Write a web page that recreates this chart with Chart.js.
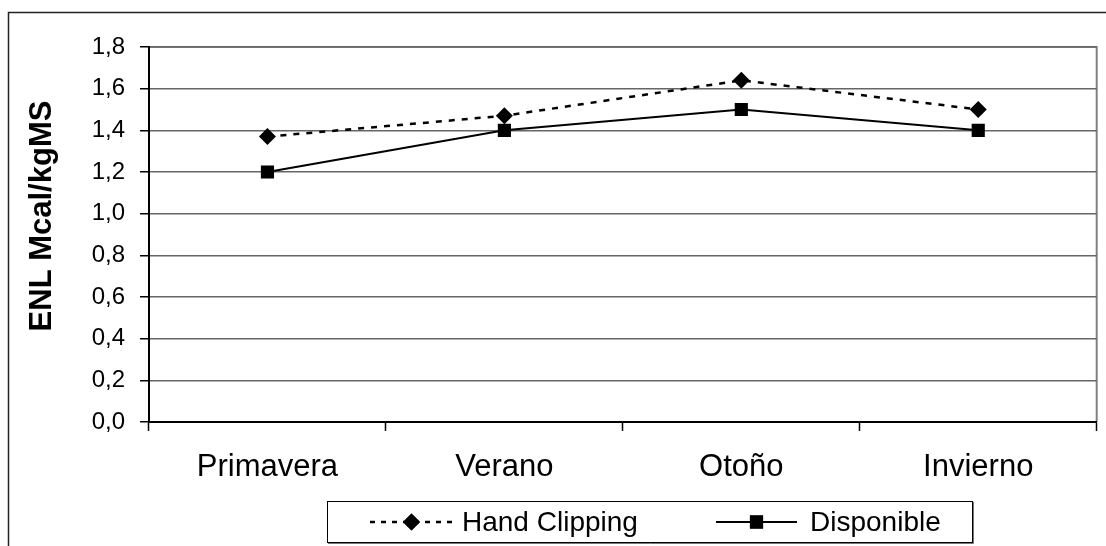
<!DOCTYPE html>
<html>
<head>
<meta charset="utf-8">
<script src="https://cdn.jsdelivr.net/npm/chart.js@4.4.1/dist/chart.umd.min.js"></script>
<style>
  html, body { margin: 0; padding: 0; background: #fff; }
  #wrap { width: 1106px; height: 546px; position: relative; }
</style>
</head>
<body>
<div id="wrap"><canvas id="enl" width="1106" height="546"></canvas></div>
<script>
// Seasons on the category axis
const categories = ['Primavera', 'Verano', 'Otoño', 'Invierno'];
// Net energy for lactation, Mcal/kg DM
const handClipping = [1.37, 1.47, 1.64, 1.50];
const disponible = [1.20, 1.40, 1.50, 1.40];
// Value-axis labels (decimal comma)
const yTickLabels = ['0,0', '0,2', '0,4', '0,6', '0,8', '1,0', '1,2', '1,4', '1,6', '1,8'];
const seriesNames = ['Hand Clipping', 'Disponible'];
const yTitle = 'ENL Mcal/kgMS';

const FONT = "'Liberation Sans', Arial, sans-serif";

// Outer chart frame and the grey top/right edges of the plot area
const framePlugin = {
  id: 'frame',
  beforeDraw(chart) {
    const { ctx, chartArea: a } = chart;
    ctx.save();
    ctx.fillStyle = '#fff';
    ctx.fillRect(0, 0, chart.width, chart.height);
    ctx.strokeStyle = '#222';
    ctx.lineWidth = 1.5;
    ctx.strokeRect(8.5, 12.5, chart.width + 50, chart.height + 50);
    ctx.strokeStyle = '#808080';
    ctx.lineWidth = 2;
    ctx.beginPath();
    ctx.moveTo(a.left, a.top);
    ctx.lineTo(a.right, a.top);
    ctx.lineTo(a.right, a.bottom);
    ctx.stroke();
    ctx.restore();
  }
};

// Rotated value-axis title, centred a little above the plot middle
const axisTitlePlugin = {
  id: 'axisTitle',
  afterDraw(chart, args, opts) {
    const { ctx } = chart;
    ctx.save();
    ctx.translate(opts.x, opts.y);
    ctx.rotate(-Math.PI / 2);
    ctx.fillStyle = '#000';
    ctx.font = `bold ${opts.size}px ${FONT}`;
    ctx.textAlign = 'center';
    ctx.textBaseline = 'middle';
    ctx.fillText(opts.text, 0, 0);
    ctx.restore();
  }
};

// Boxed legend with line + marker samples
const boxLegendPlugin = {
  id: 'boxLegend',
  afterDraw(chart, args, opts) {
    const { ctx } = chart;
    const b = opts.box;
    ctx.save();
    ctx.fillStyle = '#fff';
    ctx.fillRect(b.x, b.y, b.w, b.h);
    ctx.strokeStyle = '#000';
    ctx.lineWidth = 1;
    ctx.strokeRect(b.x + 0.5, b.y + 0.5, b.w, b.h);
    ctx.strokeStyle = '#777';
    ctx.beginPath();
    ctx.moveTo(b.x + 1, b.y + b.h + 1.5);
    ctx.lineTo(b.x + b.w + 1.5, b.y + b.h + 1.5);
    ctx.lineTo(b.x + b.w + 1.5, b.y + 1);
    ctx.stroke();

    const cy = b.y + b.h / 2 + 0.5;
    chart.data.datasets.forEach((ds, i) => {
      const it = opts.items[i];
      ctx.strokeStyle = ds.borderColor;
      ctx.lineWidth = ds.borderWidth;
      ctx.setLineDash(ds.legendDash || []);
      ctx.beginPath();
      ctx.moveTo(it.x0, cy);
      ctx.lineTo(it.x1, cy);
      ctx.stroke();
      ctx.setLineDash([]);
      ctx.fillStyle = ds.pointBackgroundColor;
      Chart.helpers.drawPoint(ctx, {
        pointStyle: ds.pointStyle,
        radius: ds.pointRadius,
        borderWidth: 0,
        rotation: 0
      }, (it.x0 + it.x1) / 2, cy);
      ctx.fill();
      ctx.fillStyle = '#000';
      ctx.font = `28px ${FONT}`;
      ctx.textBaseline = 'middle';
      ctx.textAlign = 'left';
      ctx.fillText(ds.label, it.tx, cy + 1);
    });
    ctx.restore();
  }
};

new Chart(document.getElementById('enl'), {
  type: 'line',
  data: {
    labels: categories,
    datasets: [
      {
        label: seriesNames[0],
        data: handClipping,
        borderColor: '#000',
        borderWidth: 2.5,
        borderDash: [6, 7],
        legendDash: [5, 6],
        pointStyle: 'rectRot',
        pointRadius: 8.5,
        pointBackgroundColor: '#000',
        pointBorderColor: '#000',
        pointBorderWidth: 0,
        tension: 0,
        fill: false
      },
      {
        label: seriesNames[1],
        data: disponible,
        borderColor: '#000',
        borderWidth: 2,
        pointStyle: 'rect',
        pointRadius: 9.3,
        pointBackgroundColor: '#000',
        pointBorderColor: '#000',
        pointBorderWidth: 0,
        tension: 0,
        fill: false
      }
    ]
  },
  options: {
    responsive: false,
    animation: false,
    devicePixelRatio: 1,
    layout: { padding: { top: 47, right: 8, left: 0, bottom: 0 } },
    plugins: {
      legend: { display: false },
      tooltip: { enabled: false },
      axisTitle: { text: yTitle, x: 42, y: 216, size: 31 },
      boxLegend: {
        box: { x: 327, y: 501, w: 645, h: 41 },
        items: [
          { x0: 370, x1: 453, tx: 462 },
          { x0: 716, x1: 797, tx: 810 }
        ]
      }
    },
    scales: {
      x: {
        type: 'category',
        offset: true,
        grid: {
          offset: true,
          drawOnChartArea: false,
          drawTicks: true,
          tickLength: 9,
          tickColor: '#000',
          tickWidth: 1.5
        },
        border: { display: true, color: '#000', width: 2 },
        ticks: {
          color: '#000',
          font: { family: FONT, size: 31 },
          padding: 18,
          maxRotation: 0
        },
        afterFit(scale) { scale.height = 124; }
      },
      y: {
        min: 0,
        max: 1.8,
        ticks: {
          stepSize: 0.2,
          color: '#000',
          font: { family: FONT, size: 24 },
          padding: 15,
          callback: (v, i) => yTickLabels[i]
        },
        grid: {
          color: '#666',
          lineWidth: 1.5,
          tickColor: '#000',
          tickLength: 9,
          tickWidth: 1.5
        },
        border: { display: true, color: '#000', width: 2 },
        afterFit(scale) { scale.width = 149; }
      }
    }
  },
  plugins: [framePlugin, axisTitlePlugin, boxLegendPlugin]
});
</script>
</body>
</html>
